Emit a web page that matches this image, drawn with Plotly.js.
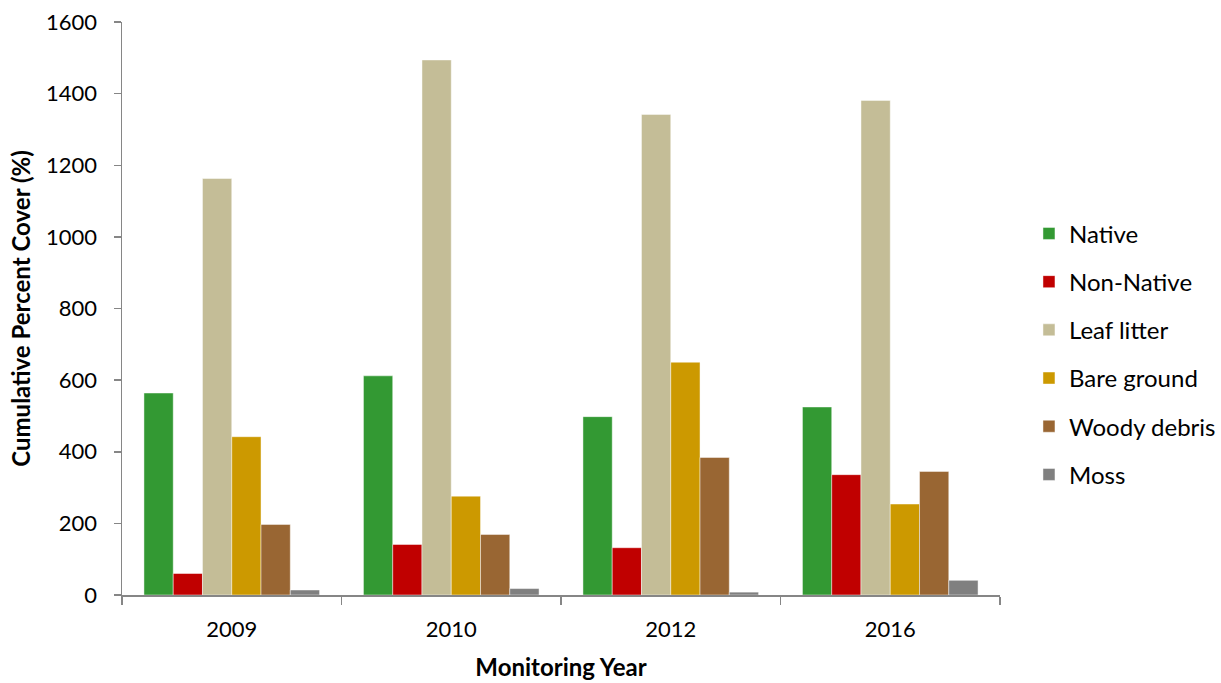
<!DOCTYPE html>
<html>
<head>
<meta charset="utf-8">
<script src="https://cdn.plot.ly/plotly-3.0.1.min.js"></script>
<style>html,body{margin:0;padding:0;background:#fff;}#chart{width:1221px;height:683px;}</style>
</head>
<body>
<div id="chart"></div>
<script>
const years = ["2009", "2010", "2012", "2016"];
const seriesNames = ["Native", "Non-Native", "Leaf litter", "Bare ground", "Woody debris", "Moss"];
const native = [564, 612, 498, 525];
const nonNative = [60, 141, 132, 336];
const leafLitter = [1163, 1494, 1342, 1381];
const bareGround = [442, 276, 650, 254];
const woodyDebris = [197, 169, 384, 345];
const moss = [14, 18, 8, 41];
const colors = ["#339933", "#C00000", "#C4BD97", "#CC9900", "#996633", "#808080"];

const values = [native, nonNative, leafLitter, bareGround, woodyDebris, moss];
const font = "Lato, 'Open Sans', sans-serif";

const data = values.map((v, i) => ({
  type: "bar",
  name: seriesNames[i],
  x: years,
  y: v,
  legendgroup: "g" + i,
  marker: {color: colors[i], line: {color: "rgba(255,255,255,0.45)", width: 1}},
  hoverinfo: "x+y+name"
}));

const layout = {
  width: 1221,
  height: 683,
  margin: {l: 122, r: 221, t: 22, b: 88, autoexpand: false},
  paper_bgcolor: "#ffffff",
  plot_bgcolor: "#ffffff",
  barmode: "group",
  bargap: 0.2,
  bargroupgap: 0,
  font: {family: font, size: 22, color: "#000"},
  xaxis: {
    type: "category",
    tickson: "boundaries",
    ticks: "outside",
    ticklen: 8,
    tickcolor: "#868686",
    tickwidth: 1.5,
    showline: true,
    linecolor: "#868686",
    linewidth: 1.5,
    showgrid: false,
    ticklabelstandoff: 14,
    tickfont: {family: font, size: 22, color: "#000"},
    title: {text: "Monitoring Year", font: {family: font, size: 24, color: "#000", weight: "bold"}, standoff: 18}
  },
  yaxis: {
    range: [0, 1600],
    dtick: 200,
    ticks: "outside",
    ticklen: 7,
    tickcolor: "#868686",
    tickwidth: 1.5,
    showline: true,
    linecolor: "#868686",
    linewidth: 1.5,
    showgrid: false,
    zeroline: false,
    ticklabelstandoff: 12,
    tickfont: {family: font, size: 22, color: "#000"},
    title: {text: "Cumulative Percent Cover (%)", font: {family: font, size: 24, color: "#000", weight: "bold"}, standoff: 8}
  },
  legend: {
    x: 1.033,
    xanchor: "left",
    y: 0.42,
    yanchor: "middle",
    font: {family: font, size: 24, color: "#000"},
    tracegroupgap: 14,
    traceorder: "grouped",
    itemwidth: 30,
    bgcolor: "rgba(0,0,0,0)"
  },
  showlegend: true
};

Plotly.newPlot("chart", data, layout, {displayModeBar: false, staticPlot: true});
</script>
</body>
</html>
